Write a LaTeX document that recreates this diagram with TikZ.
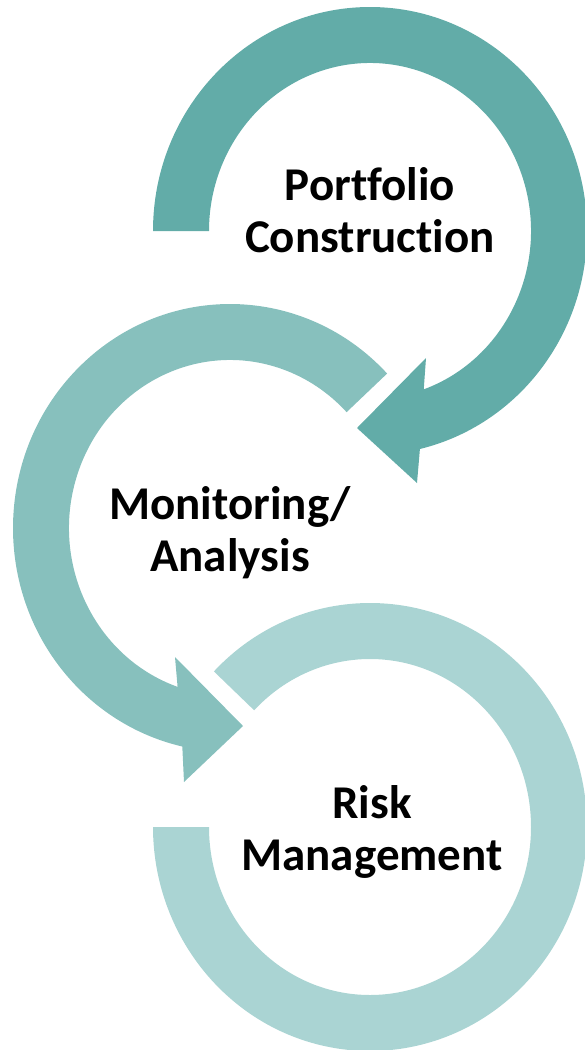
\documentclass[tikz,border=0pt]{standalone}
\usepackage{fontspec}
\setmainfont{Carlito}[Ligatures=NoCommon]
\usetikzlibrary{calc}
\definecolor{arcA}{RGB}{98,172,168}
\definecolor{arcB}{RGB}{135,192,189}
\definecolor{arcC}{RGB}{170,212,211}
\tikzset{
  lbl/.style={font=\fontsize{47}{52}\selectfont\bfseries, align=center, inner sep=0pt, text=black},
  outerR/.style={x radius=217pt, y radius=224pt},
  innerR/.style={x radius=161pt, y radius=168pt}
}
\begin{document}
\begin{tikzpicture}[x=1pt,y=1pt]
\useasboundingbox (0,0) rectangle (585,-1050);
\clip (0,0) rectangle (585,-1050);
\coordinate (c1) at (370,-231);
\coordinate (c2) at (230,-528);
\coordinate (c3) at (370,-827);
% bottom arc (Risk Management)
\fill[arcC] ($(c3)+(136:217pt and 224pt)$) arc[start angle=136, end angle=-180, outerR]
  -- ($(c3)+(180:161pt and 168pt)$) arc[start angle=-180, end angle=136, innerR] -- cycle;
% middle arc (Monitoring/Analysis)
\fill[arcB] ($(c2)+(43.6:217pt and 224pt)$) arc[start angle=43.6, end angle=257.3, outerR]
  -- (184,-782) -- (243,-726) -- (175,-657)
  -- ($(c2)+(251:161pt and 168pt)$) arc[start angle=251, end angle=43.6, innerR] -- cycle;
% top arc (Portfolio Construction)
\fill[arcA] ($(c1)+(180:217pt and 224pt)$) arc[start angle=180, end angle=-76.7, outerR]
  -- (417,-483) -- (357,-428) -- (426,-358)
  -- ($(c1)+(-70.5:161pt and 168pt)$) arc[start angle=-70.5, end angle=180, innerR] -- cycle;
\node[lbl, anchor=base] (pc) at (370,-252) {Portfolio\\Construction};
\node[lbl, anchor=base] (ma) at (230,-571) {Monitoring/\\Analysis};
\node[lbl, anchor=base] (rm) at (372,-870) {Risk\\Management};
\end{tikzpicture}
\end{document}
